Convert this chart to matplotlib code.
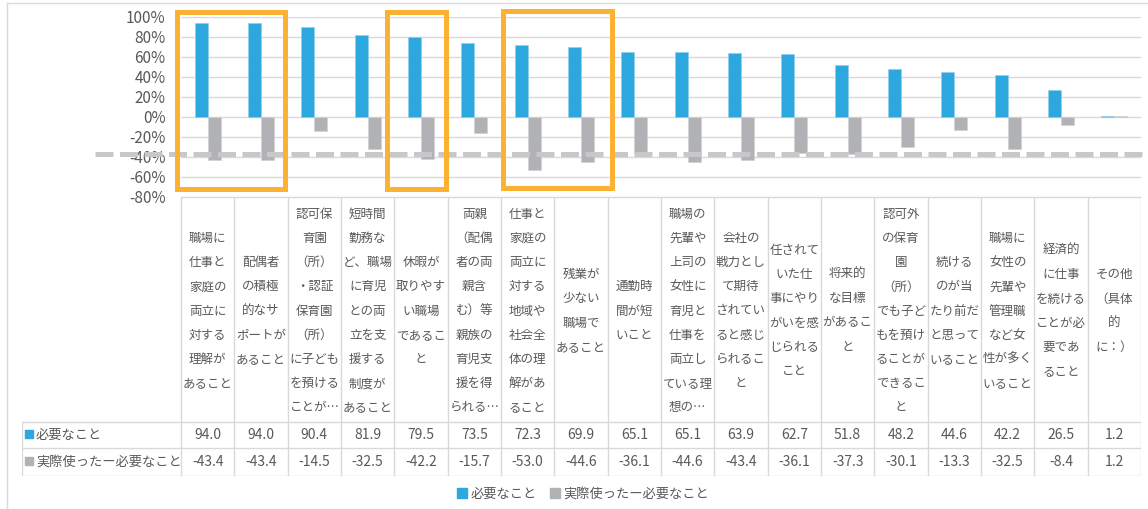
import numpy as np
import matplotlib.pyplot as plt
import matplotlib.patches as patches
from matplotlib.lines import Line2D

plt.rcParams['font.family'] = ['Noto Sans CJK JP', 'DejaVu Sans']

# data
categories = [
    "職場に\n仕事と\n家庭の\n両立に\n対する\n理解が\nあること",
    "配偶者\nの積極\n的なサ\nポートが\nあること",
    "認可保\n育園\n（所）\n・認証\n保育園\n（所）\nに子ども\nを預ける\nことが…",
    "短時間\n勤務な\nど、職場\nに育児\nとの両\n立を支\n援する\n制度が\nあること",
    "休暇が\n取りやす\nい職場\nであるこ\nと",
    "両親\n（配偶\n者の両\n親含\nむ）等\n親族の\n育児支\n援を得\nられる…",
    "仕事と\n家庭の\n両立に\n対する\n地域や\n社会全\n体の理\n解があ\nること",
    "残業が\n少ない\n職場で\nあること",
    "通勤時\n間が短\nいこと",
    "職場の\n先輩や\n上司の\n女性に\n育児と\n仕事を\n両立し\nている理\n想の…",
    "会社の\n戦力とし\nて期待\nされてい\nると感じ\nられるこ\nと",
    "任されて\nいた仕\n事にやり\nがいを感\nじられる\nこと",
    "将来的\nな目標\nがあるこ\nと",
    "認可外\nの保育\n園\n（所）\nでも子ど\nもを預け\nることが\nできるこ\nと",
    "続ける\nのが当\nたり前だ\nと思って\nいること",
    "職場に\n女性の\n先輩や\n管理職\nなど女\n性が多く\nいること",
    "経済的\nに仕事\nを続ける\nことが必\n要であ\nること",
    "その他\n（具体\n的\nに：）",
]
need = [94.0, 94.0, 90.4, 81.9, 79.5, 73.5, 72.3, 69.9, 65.1, 65.1, 63.9, 62.7, 51.8, 48.2, 44.6, 42.2, 26.5, 1.2]
diff = [-43.4, -43.4, -14.5, -32.5, -42.2, -15.7, -53.0, -44.6, -36.1, -44.6, -43.4, -36.1, -37.3, -30.1, -13.3, -32.5, -8.4, 1.2]
series_names = ["必要なこと", "実際使ったー必要なこと"]
ref_line = -37

blue = '#2DA8DF'
gray = '#B1B2B6'
orange = '#FBB132'
txt = '#595959'
grid = '#D9D9D9'

W, H = 1148, 509
fig = plt.figure(figsize=(W / 100, H / 100), dpi=100)

# chart area
ax = fig.add_axes([181 / W, 1 - 197 / H, 960 / W, 180 / H])
x = np.arange(len(categories))
bw = 0.245
b1 = ax.bar(x - bw / 2, need, bw, color=blue, edgecolor='#8fd0ef', linewidth=0.5, zorder=2)
b2 = ax.bar(x + bw / 2, diff, bw, color=gray, edgecolor='#d0d1d3', linewidth=0.5, zorder=2)
ax.set_xlim(-0.5, len(categories) - 0.5)
ax.set_ylim(-80, 100)
ax.set_yticks(range(-80, 101, 20))
ax.set_yticklabels([f"{v}%" for v in range(-80, 101, 20)], fontsize=11, color=txt)
ax.set_xticks([])
ax.tick_params(axis='y', length=0, pad=11)
ax.yaxis.grid(True, color=grid, lw=1)
ax.set_axisbelow(True)
for s in ax.spines.values():
    s.set_visible(False)

ax.axhline(ref_line, xmin=-0.09, xmax=1.01, clip_on=False, color='#C8C8C8',
           lw=3.6, ls=(0, (3.6, 1.3)), zorder=3)

# highlight boxes
for x0, x1, y0, y1 in [(-0.575, 1.45, -72, 105), (3.36, 4.46, -72, 105), (5.54, 7.58, -71, 106)]:
    ax.add_patch(patches.Rectangle((x0, y0), x1 - x0, y1 - y0, fill=False, ec=orange,
                                   lw=3.6, clip_on=False, zorder=4))

# data table
tab = fig.add_axes([22 / W, 1 - 476 / H, (1141 - 22) / W, (476 - 197) / H])
left = -0.5 - 159 / (960 / 18)
tab.set_xlim(left, len(categories) - 0.5)
tab.set_ylim(476, 197)
tab.axis('off')

n = len(categories)
for b in np.arange(-0.5, n, 1.0):
    tab.plot([b, b], [197, 476], color=grid, lw=1)
tab.plot([-0.5, n - 0.5], [197, 197], color=grid, lw=1)
for yy in [422, 448, 476]:
    tab.plot([left, n - 0.5], [yy, yy], color=grid, lw=1)
tab.plot([left, left], [422, 476], color=grid, lw=1)

for i, c in enumerate(categories):
    tab.text(i, 311, c, ha='center', va='center', multialignment='center',
             fontsize=9, color=txt, linespacing=2.12)

rows = [(need, blue, 435), (diff, gray, 462)]
for (vals, col, yy), name in zip(rows, series_names):
    tab.plot([left + 0.13], [yy - 1], marker='s', ms=6, color=col, ls='none')
    tab.text(left + 0.26, yy, name, ha='left', va='center', fontsize=9.5, color=txt)
    for i, v in enumerate(vals):
        tab.text(i, yy, f"{v:.1f}", ha='center', va='center', fontsize=10, color=txt)

# legend
h1 = Line2D([], [], marker='s', ms=7, color=blue, ls='none')
h2 = Line2D([], [], marker='s', ms=7, color=gray, ls='none')
leg = fig.legend([h1, h2], series_names, loc='center', bbox_to_anchor=(583 / W, 1 - 494 / H),
                 ncol=2, frameon=False, fontsize=9.5, handlelength=0.8, handletextpad=0.2,
                 columnspacing=1.0)
for t in leg.get_texts():
    t.set_color(txt)

# chart frame
fig.add_artist(Line2D([7 / W, 7 / W], [0, 1 - 3 / H], color=grid, lw=1))
fig.add_artist(Line2D([7 / W, 1], [1 - 3 / H, 1 - 3 / H], color=grid, lw=1))

fig.savefig('out.png', dpi=100)
